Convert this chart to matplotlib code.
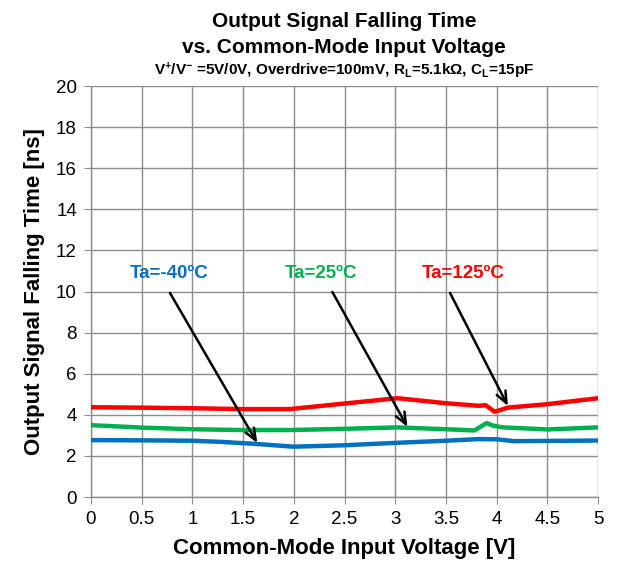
"""Falling time vs. common-mode input voltage at three ambient temperatures."""

import matplotlib

matplotlib.use("Agg")
import matplotlib.pyplot as plt

plt.rcParams["font.family"] = ["Liberation Sans", "DejaVu Sans"]
plt.rcParams["mathtext.fontset"] = "custom"
plt.rcParams["mathtext.default"] = "bf"
plt.rcParams["mathtext.rm"] = "Liberation Sans:bold"
plt.rcParams["mathtext.it"] = "Liberation Sans:bold"
plt.rcParams["mathtext.bf"] = "Liberation Sans:bold"

# Measured curves (x in V, falling time in ns)
vcm_red = [0.0, 0.5, 1.0, 1.5, 1.96, 2.5, 3.02, 3.51, 3.82, 3.89, 3.98, 4.11, 4.5, 5.0]
tf_125 = [4.37, 4.35, 4.32, 4.28, 4.28, 4.55, 4.81, 4.56, 4.44, 4.47, 4.15, 4.35, 4.52, 4.81]

vcm_green = [0.0, 0.5, 1.0, 1.5, 1.96, 2.5, 3.02, 3.5, 3.78, 3.85, 3.9, 3.96, 4.06, 4.5, 5.0]
tf_25 = [3.50, 3.38, 3.30, 3.26, 3.26, 3.32, 3.39, 3.30, 3.24, 3.45, 3.60, 3.48, 3.39, 3.29, 3.39]

vcm_blue = [0.0, 0.5, 1.0, 1.3, 1.64, 2.0, 2.5, 3.02, 3.5, 3.82, 4.0, 4.17, 4.5, 5.0]
tf_m40 = [2.77, 2.76, 2.74, 2.68, 2.58, 2.45, 2.52, 2.64, 2.74, 2.82, 2.81, 2.72, 2.73, 2.75]

series = [
    (vcm_blue, tf_m40, "#0070c0", "Ta=-40ºC", (0.77, 10.9), (0.78, 9.93), (1.64, 2.63)),
    (vcm_green, tf_25, "#00b050", "Ta=25ºC", (2.27, 10.9), (2.38, 9.98), (3.12, 3.41)),
    (vcm_red, tf_125, "#ff0000", "Ta=125ºC", (3.67, 10.9), (3.54, 9.93), (4.11, 4.43)),
]

x_ticks = [0, 0.5, 1, 1.5, 2, 2.5, 3, 3.5, 4, 4.5, 5]
y_ticks = list(range(0, 21, 2))

fig = plt.figure(figsize=(6.18, 5.70), dpi=100)
ax = fig.add_axes([0.147, 0.128, 0.821, 0.721])

for x, y, color, _, _, _, _ in series:
    ax.plot(x, y, color=color, linewidth=3.2, solid_capstyle="butt", zorder=3)

for _, _, color, label, text_xy, tail, head in series:
    ax.text(*text_xy, label, color=color, fontsize=13.5, fontweight="bold",
            ha="center", va="center", zorder=4)
    ax.annotate("", xy=head, xytext=tail,
                arrowprops=dict(arrowstyle="->,head_length=0.6,head_width=0.25",
                                color="black", lw=1.8, mutation_scale=14,
                                shrinkA=0, shrinkB=0),
                zorder=4)

ax.set_xlim(0, 5)
ax.set_ylim(0, 20)
ax.set_xticks(x_ticks)
ax.set_xticklabels([f"{t:g}" for t in x_ticks])
ax.set_yticks(y_ticks)
ax.grid(True, color="#8c8c8c", linewidth=1.0)
ax.set_axisbelow(True)
for side in ("top", "right"):
    ax.spines[side].set_visible(False)
for side in ("left", "bottom"):
    ax.spines[side].set_color("#8c8c8c")
    ax.spines[side].set_linewidth(1.0)
ax.tick_params(axis="both", direction="out", length=5, color="#8c8c8c",
               labelsize=13.5, pad=5)
for lbl in ax.get_xticklabels():
    lbl.set_family(["Liberation Sans Narrow", "Liberation Sans", "DejaVu Sans"])

ax.set_xlabel("Common-Mode Input Voltage [V]", fontsize=16,
              fontweight="bold", labelpad=7)
ax.set_ylabel("Output Signal Falling Time [ns]", fontsize=16,
              fontweight="bold", labelpad=8)

fig.text(0.557, 0.962, "Output Signal Falling Time", ha="center", va="center",
         fontsize=15, fontweight="bold")
fig.text(0.557, 0.917, "vs. Common-Mode Input Voltage", ha="center", va="center",
         fontsize=15, fontweight="bold")
fig.text(0.557, 0.876,
         r"V$^{+}$/V$^{-}$ =5V/0V, Overdrive=100mV, R$_{L}$=5.1kΩ, C$_{L}$=15pF",
         ha="center", va="center", fontsize=11, fontweight="bold")

fig.savefig("out.png", dpi=100)
